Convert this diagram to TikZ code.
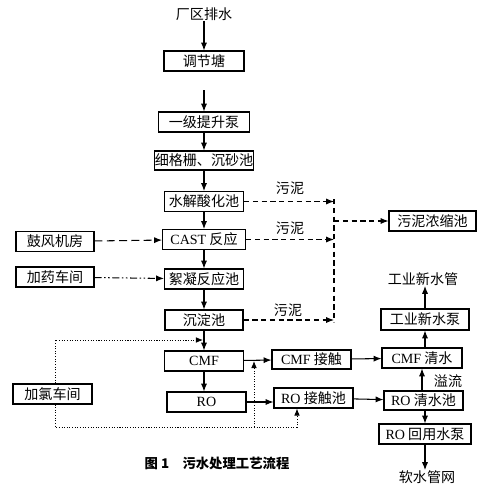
\documentclass[tikz,border=0pt]{standalone}
\usepackage{fontspec}
\setmainfont{Liberation Serif}
\newfontfamily\cjk{Noto Sans CJK SC}
\usetikzlibrary{arrows.meta,positioning}
\newcommand\lat[1]{{\rmfamily #1}}

\begin{document}
\begin{tikzpicture}[x=0.02cm,y=-0.02cm,
  every node/.style={font=\cjk\fontsize{8}{9}\selectfont}]
  \tikzset{
    box/.style={draw,line width=0.6pt,inner sep=0pt,minimum height=0.4cm},
    lbl/.style={inner sep=0pt},
    flow/.style={line width=0.6pt,-{Latex[length=4.5pt,width=3.5pt]}},
    sludge/.style={flow,dash pattern=on 3pt off 2pt},
    air/.style={flow,dash pattern=on 4.5pt off 2.5pt},
    dose/.style={flow,dash pattern=on 4pt off 1.5pt on 0.8pt off 1.5pt on 0.8pt off 1.5pt},
    chlor/.style={line width=0.45pt,dash pattern=on 0.6pt off 0.9pt},
    chlorto/.style={chlor,-{Latex[length=4pt,width=3.2pt]}}
  }
  \useasboundingbox (0,0) rectangle (500,490);

  % main line
  \node[lbl] (cq) at (204,14) {厂区排水};
  \node[box,minimum width=1.6cm] (tjt) at (204,61) {调节塘};
  \coordinate (tsin) at (204,90);
  \node[box,minimum width=1.82cm] (ts) at (204,122) {一级提升泵};
  \node[box,minimum width=1.94cm,minimum height=0.38cm] (xgs) at (204,160.5) {细格栅、沉砂池};
  \node[box,minimum width=1.58cm] (sj) at (204,201.5) {水解酸化池};
  \node[box,minimum width=1.66cm] (cast) at (204,239.5) {\lat{CAST} 反应};
  \node[box,minimum width=1.58cm] (xn) at (204,279) {絮凝反应池};
  \node[box,minimum width=1.56cm] (cd) at (204,320) {沉淀池};
  \node[box,minimum width=1.58cm] (cmf) at (204,361) {\lat{CMF}};
  \node[box,minimum width=1.58cm] (ro) at (206.5,402) {\lat{RO}};

  % side rooms
  \node[box,minimum width=1.56cm] (gf) at (55,241.5) {鼓风机房};
  \node[box,minimum width=1.56cm] (jy) at (55,277) {加药车间};
  \node[box,minimum width=1.58cm] (jl) at (52.5,394) {加氯车间};

  % sludge
  \node[box,minimum width=1.74cm] (wn) at (432.5,221) {污泥浓缩池};
  \coordinate (s1) at (334,201.5);
  \coordinate (s2) at (334,239.5);
  \coordinate (s3) at (334,320);
  \coordinate (stop) at (334,199);
  \coordinate (sbot) at (334,322);
  \coordinate (sout) at (334,221);
  \node[lbl] (wn1) at (290,188) {污泥};
  \node[lbl] (wn2) at (290,228) {污泥};
  \node[lbl] (wn3) at (288,310) {污泥};

  % reuse
  \node[box,minimum width=1.58cm,minimum height=0.38cm] (cmfjc) at (311.5,359.5) {\lat{CMF} 接触};
  \node[box,minimum width=1.58cm] (rojc) at (313.5,398) {\lat{RO} 接触池};
  \node[box,minimum width=1.6cm] (cmfqs) at (422,358) {\lat{CMF} 清水};
  \node[box,minimum width=1.58cm,minimum height=0.38cm] (roqs) at (423.5,400.5) {\lat{RO} 清水池};
  \node[box,minimum width=1.84cm] (rohy) at (425,434) {\lat{RO} 回用水泵};
  \node[box,minimum width=1.76cm,minimum height=0.42cm] (gyb) at (425,319.5) {工业新水泵};
  \node[lbl] (gyg) at (423,279) {工业新水管};
  \node[lbl] (rs) at (427,477) {软水管网};
  \node[lbl] (yl) at (448,381) {溢流};

  \node[lbl,font=\cjk\bfseries\fontsize{7.6}{9}\selectfont] (cap) at (217,463) {图 1\quad 污水处理工艺流程};

  % main arrows
  \draw[flow] (cq) -- (tjt);
  \draw[flow] (tsin) -- (ts);
  \draw[flow] (ts) -- (xgs);
  \draw[flow] (xgs) -- (sj);
  \draw[flow] (sj) -- (cast);
  \draw[flow] (cast) -- (xn);
  \draw[flow] (xn) -- (cd);
  \draw[flow] (cd) -- (cmf);
  \draw[flow] (cmf.south) -- (cmf.south |- ro.north);
  \draw[air] (gf) -- (cast);
  \draw[dose] (jy) -- (xn);

  % sludge lines
  \draw[sludge] (sj) -- (s1);
  \draw[sludge] (cast) -- (s2);
  \draw[sludge] (cd) -- (s3);
  \draw[line width=0.6pt,dash pattern=on 3pt off 2pt] (stop) -- (sbot);
  \draw[sludge] (sout) -- (wn);

  % reuse arrows
  \draw[flow] (cmf) -- (cmfjc);
  \draw[flow] (ro.east) -- (ro.east -| rojc.west);
  \draw[flow] (cmfjc) -- (cmfqs);
  \draw[flow] (rojc) -- (roqs);
  \draw[flow] (roqs.north -| cmfqs.south) -- (cmfqs.south);
  \draw[flow] (roqs.south -| rohy.north) -- (rohy.north);
  \draw[flow] (rohy.south) -- (rohy.south |- rs.north);
  \draw[flow] (cmfqs.north -| gyb.south) -- (gyb.south);
  \draw[flow] (gyb.north) -- (gyb.north |- gyg.south);

  % chlorine
  \coordinate (c1) at (55,340);
  \coordinate (c2) at (203,340);
  \coordinate (c3) at (55,427);
  \coordinate (c4) at (297,427);
  \coordinate (c5) at (254,427);
  \coordinate (c6) at (254,361);
  \draw[chlorto] (jl.north -| c1) -- (c1) -- (c2);
  \draw[chlorto] (jl.south -| c3) -- (c3) -- (c4) -- (c4 |- rojc.south);
  \draw[chlorto] (c5) -- (c6);
\end{tikzpicture}
\end{document}
